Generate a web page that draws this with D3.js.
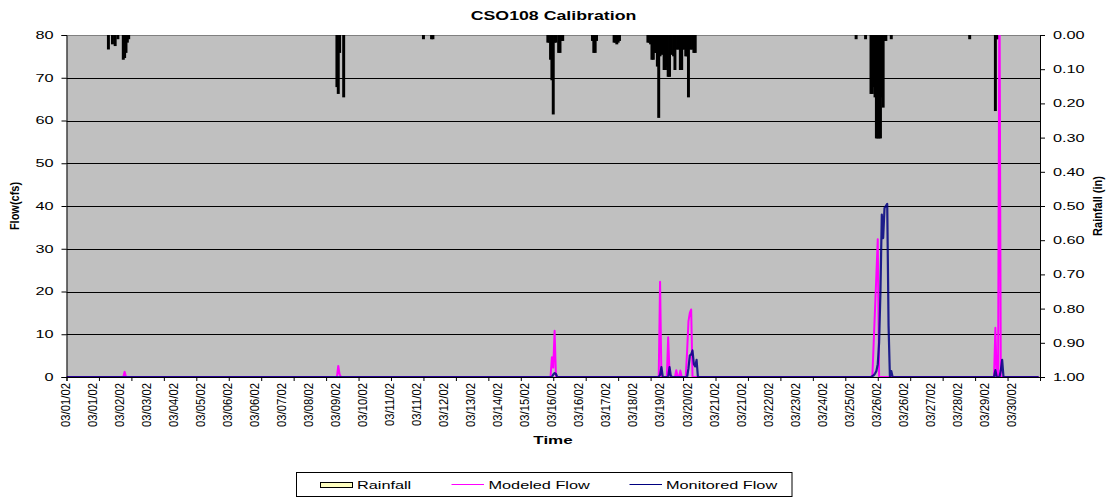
<!DOCTYPE html>
<html>
<head>
<meta charset="utf-8">
<script src="https://cdn.jsdelivr.net/npm/d3@7"></script>
<style>
  body { margin: 0; background: #fff; }
  svg { display: block; font-family: "Liberation Sans", Arial, sans-serif; }
</style>
</head>
<body>
<svg id="chart" width="1108" height="500"></svg>
<script>
// Hourly record, 03/01/02 00:00 through 03/30/02 23:00
const hoursSpan = 720;
const dayTicks = d3.range(0, hoursSpan + 1, 24);
const labelStep = 20;
const xTickLabels = [
  "03/01/02","03/01/02","03/02/02","03/03/02","03/04/02","03/05/02","03/06/02","03/06/02",
  "03/07/02","03/08/02","03/09/02","03/10/02","03/11/02","03/11/02","03/12/02","03/13/02",
  "03/14/02","03/15/02","03/16/02","03/16/02","03/17/02","03/18/02","03/19/02","03/20/02",
  "03/21/02","03/21/02","03/22/02","03/23/02","03/24/02","03/25/02","03/26/02","03/26/02",
  "03/27/02","03/28/02","03/29/02","03/30/02"
];
const flowTicks = [0, 10, 20, 30, 40, 50, 60, 70, 80];
const rainTicks = [0, 0.1, 0.2, 0.3, 0.4, 0.5, 0.6, 0.7, 0.8, 0.9, 1.0];

// Rainfall per hour [hour, inches]; hours not listed had no rain
const rainfall = [
  [31,0.04],[34,0.025],[36,0.03],[38,0.01],[42,0.07],[43,0.065],[44,0.05],[45,0.02],[46,0.01],
  [200,0.15],[201,0.17],[202,0.05],[205,0.18],
  [264,0.01],[270,0.01],[271,0.01],
  [356,0.02],[357,0.02],[358,0.07],[359,0.13],[360,0.23],[361,0.02],[362,0.02],[364,0.05],[365,0.05],[366,0.015],[367,0.015],
  [389,0.015],[390,0.05],[391,0.05],[392,0.015],
  [405,0.02],[406,0.02],[407,0.025],[408,0.02],[409,0.015],
  [430,0.02],[431,0.02],[432,0.025],[433,0.07],[434,0.07],[435,0.05],[436,0.05],[437,0.09],[438,0.24],[439,0.06],
  [440,0.055],[441,0.055],[442,0.1],[443,0.1],[444,0.09],[445,0.12],[446,0.12],[447,0.055],[448,0.055],[449,0.06],
  [450,0.1],[451,0.04],[452,0.04],[453,0.04],[454,0.1],[455,0.1],[456,0.04],[457,0.04],[458,0.06],[459,0.06],
  [460,0.18],[461,0.04],[462,0.04],[463,0.04],[464,0.05],[465,0.05],
  [584,0.01],[591,0.01],
  [595,0.17],[596,0.17],[597,0.15],[598,0.18],[599,0.30],[600,0.30],[601,0.30],[602,0.30],[603,0.18],[604,0.21],[605,0.015],[606,0.015],
  [610,0.01],[668,0.01],[687,0.22],[688,0.01],[689,0.01]
];

// Modeled flow (cfs) [hour, value]; flat at zero between listed points
const modeledFlow = [
  [0,0],[42,0],[43,1.2],[44,0],
  [200,0],[201,2.6],[202,0.6],[203,0],
  [358,0],[359,4.6],[360,2.2],[361,10.8],[362,0],
  [438,0],[439,22.3],[440,0],
  [444,0],[445,9.3],[446,0.8],[447,0],
  [450,0],[451,1.6],[452,0],[453,0],[454,1.5],[455,0],
  [458,0],[459,6],[460,13],[461,15],[462,15.8],[463,0],
  [596,0],[597,8],[598,16],[599,24],[600,32.2],[601,0],
  [686,0],[687,11.5],[688,0],[689,0],[690,96],[691,0],
  [719,0]
];

// Monitored flow (cfs) [hour, value]
const monitoredFlow = [
  [0,0],[359,0],[360,0.6],[361,0.9],[362,0.7],[363,0],
  [438,0],[439,0.5],[440,2.3],[441,0],
  [445,0],[446,2.3],[447,0.2],[448,0],
  [459,0],[460,2],[461,5.0],[462,5.3],[463,6.2],[464,3.0],[465,2.5],[466,4.0],[467,0],
  [595,0],[596,0.2],[597,0.4],[598,0.8],[599,1.4],[600,3],[601,8],[602,20],[603,38],[604,32.5],
  [605,39.5],[606,40],[607,40.5],[608,12],[609,0],[610,1.4],[611,0],
  [686,0],[687,1.6],[688,0],[690,0],[691,1.5],[692,4.0],[693,0],
  [719,0]
];

const svg = d3.select("#chart");
const plot = { left: 66.5, right: 1040, top: 35, bottom: 377 };

const x = d3.scaleLinear().domain([0, hoursSpan]).range([plot.left, plot.right]);
const yFlow = d3.scaleLinear().domain([0, 80]).range([plot.bottom, plot.top]);
const yRain = d3.scaleLinear().domain([0, 1]).range([plot.top, plot.bottom]);

const H_STRETCH = 1.48;

// horizontal text drawn wide, as the chart's fonts are
function wideText(g, tx, ty, str, opts) {
  const t = g.append("text")
    .attr("transform", `translate(${tx},${ty}) scale(${opts.sx || H_STRETCH},1)`)
    .attr("text-anchor", opts.anchor || "middle")
    .attr("font-size", opts.size || 11)
    .attr("font-weight", opts.weight || "normal")
    .attr("fill", "#000")
    .text(str);
  if (opts.dy) t.attr("dy", opts.dy);
  return t;
}

svg.append("defs").append("clipPath").attr("id", "plotClip")
  .append("rect")
  .attr("x", plot.left).attr("y", plot.top)
  .attr("width", plot.right - plot.left).attr("height", plot.bottom - plot.top);

// plot background
svg.append("rect")
  .attr("x", plot.left).attr("y", plot.top)
  .attr("width", plot.right - plot.left).attr("height", plot.bottom - plot.top)
  .attr("fill", "#c0c0c0");

// horizontal gridlines on the flow scale
svg.append("g")
  .selectAll("line")
  .data(flowTicks.filter(d => d > 0 && d < 80))
  .join("line")
  .attr("x1", plot.left).attr("x2", plot.right)
  .attr("y1", d => Math.round(yFlow(d)) + 0.5).attr("y2", d => Math.round(yFlow(d)) + 0.5)
  .attr("stroke", "#000").attr("stroke-width", 1);

// top border of the plot area
svg.append("line")
  .attr("x1", plot.left).attr("x2", plot.right)
  .attr("y1", plot.top + 0.5).attr("y2", plot.top + 0.5)
  .attr("stroke", "#808080");

// rainfall bars hanging from the top (reversed secondary axis); the outline
// is wider than each hourly bar, so the bars read as solid black
const barW = x(1) - x(0);
svg.append("g").attr("clip-path", "url(#plotClip)")
  .selectAll("rect")
  .data(rainfall)
  .join("rect")
  .attr("x", d => x(d[0]) - barW / 2)
  .attr("y", yRain(0))
  .attr("width", barW)
  .attr("height", d => yRain(d[1]) - yRain(0))
  .attr("fill", "#ffffc0")
  .attr("stroke", "#000")
  .attr("stroke-width", 1.6);

const line = d3.line().x(d => x(d[0])).y(d => yFlow(d[1]));

const lines = svg.append("g").attr("clip-path", "url(#plotClip)");
lines.append("path")
  .datum(modeledFlow)
  .attr("d", line)
  .attr("fill", "none")
  .attr("stroke", "#ff00ff")
  .attr("stroke-width", 2)
  .attr("stroke-linejoin", "round");
lines.append("path")
  .datum(monitoredFlow)
  .attr("d", line)
  .attr("fill", "none")
  .attr("stroke", "#000080")
  .attr("stroke-opacity", 0.85)
  .attr("stroke-width", 2.2)
  .attr("stroke-linejoin", "round");

// left axis (flow)
const leftAxis = svg.append("g")
  .attr("transform", `translate(${plot.left},0)`)
  .call(d3.axisLeft(yFlow).tickValues(flowTicks).tickSize(5).tickFormat(""));
leftAxis.select(".domain").attr("stroke", "#000");
flowTicks.forEach(v => wideText(svg, 53.5, yFlow(v), String(v), { anchor: "end", dy: "0.36em" }));

// right axis (rainfall)
const rightAxis = svg.append("g")
  .attr("transform", `translate(${plot.right},0)`)
  .call(d3.axisRight(yRain).tickValues(rainTicks).tickSize(5).tickFormat(""));
rightAxis.select(".domain").attr("stroke", "#000");
rainTicks.forEach(v => wideText(svg, 1053, yRain(v), d3.format(".2f")(v), { anchor: "start", dy: "0.36em" }));

// bottom axis: a tick per day, a date label every 20 hours
const bottomAxis = svg.append("g")
  .attr("transform", `translate(0,${plot.bottom})`)
  .call(d3.axisBottom(x).tickValues(dayTicks).tickSize(4).tickFormat(""));
bottomAxis.select(".domain").attr("stroke", "#000");

svg.append("g")
  .selectAll("text")
  .data(xTickLabels)
  .join("text")
  .attr("transform", (d, i) => `translate(${x(i * labelStep) - 1.5},383) scale(1.12,1) rotate(-90)`)
  .attr("text-anchor", "end")
  .attr("dy", "0.36em")
  .attr("font-size", 11.3)
  .text(d => d);

// titles
wideText(svg, 553.5, 20, "CSO108 Calibration", { weight: "bold", size: 12 });
wideText(svg, 553, 443.5, "Time", { weight: "bold", size: 11.5 });

svg.append("text")
  .attr("transform", "translate(18.5,206) scale(1.1,1) rotate(-90)")
  .attr("text-anchor", "middle")
  .attr("font-size", 11).attr("font-weight", "bold")
  .text("Flow(cfs)");

svg.append("text")
  .attr("transform", "translate(1102,206) scale(1.1,1) rotate(-90)")
  .attr("text-anchor", "middle")
  .attr("font-size", 11).attr("font-weight", "bold")
  .text("Rainfall (in)");

// legend
const legend = svg.append("g");
legend.append("rect")
  .attr("x", 296.5).attr("y", 472.5).attr("width", 495.5).attr("height", 24)
  .attr("fill", "#fff").attr("stroke", "#000");
legend.append("rect")
  .attr("x", 320.5).attr("y", 482.5).attr("width", 32).attr("height", 5)
  .attr("fill", "#ffffc0").attr("stroke", "#000");
wideText(legend, 357, 488.5, "Rainfall", { anchor: "start", size: 11 });
legend.append("line")
  .attr("x1", 451.5).attr("x2", 484).attr("y1", 484.5).attr("y2", 484.5)
  .attr("stroke", "#ff00ff").attr("stroke-width", 1);
wideText(legend, 488.5, 488.5, "Modeled Flow", { anchor: "start", size: 11 });
legend.append("line")
  .attr("x1", 629.5).attr("x2", 662).attr("y1", 484.5).attr("y2", 484.5)
  .attr("stroke", "#000080").attr("stroke-width", 1);
wideText(legend, 666, 488.5, "Monitored Flow", { anchor: "start", size: 11 });
</script>
</body>
</html>
